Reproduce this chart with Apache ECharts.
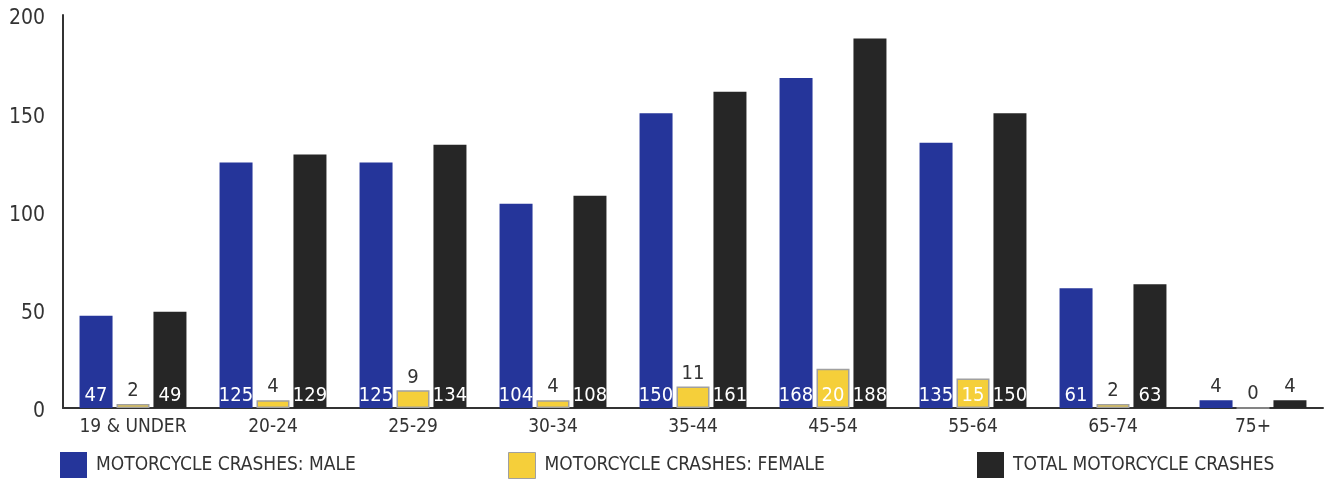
<!DOCTYPE html>
<html><head><meta charset="utf-8">
<script src="https://cdn.jsdelivr.net/npm/echarts@6/dist/echarts.min.js"></script>
<style>html,body{margin:0;padding:0;background:#fff}#c{width:1327px;height:482px}</style>
</head><body><div id="c"></div>
<script>
const categories = ['19 & UNDER','20-24','25-29','30-34','35-44','45-54','55-64','65-74','75+'];
const male = [47,125,125,104,150,168,135,61,4];
const female = [2,4,9,4,11,20,15,2,0];
const total = [49,129,134,108,161,188,150,63,4];
const seriesNames = ['MOTORCYCLE CRASHES: MALE','MOTORCYCLE CRASHES: FEMALE','TOTAL MOTORCYCLE CRASHES'];
const yTicks = [0,50,100,150,200];

const FONT = "'DejaVu Sans Condensed','Liberation Sans Narrow',sans-serif";
const colors = ['#25359a','#f5cf3a','#262626'];

function mkData(vals){
  return vals.map(v => {
    if (v < 12) return {value:v, label:{position:'top', color:'#333', distance:3}};
    return {value:v};
  });
}
function mkSeries(i, vals){
  return {
    name: seriesNames[i], type:'bar', data: mkData(vals),
    barWidth: 33, barGap: '12%',
    itemStyle: i===1 ? {color:colors[i], borderColor:'#a0a0a0', borderWidth:1.5} : {color:colors[i]},
    label: {show:true, position:'insideBottom', distance:2, color:'#fff', fontFamily:FONT, fontSize:20},
    emphasis:{disabled:true}
  };
}
const chart = echarts.init(document.getElementById('c'));
chart.setOption({
  animation:false,
  grid:{left:63, right:4, top:15, bottom:74, containLabel:false},
  legend:[0,1,2].map((i) => ({
    data:[{name:seriesNames[i], itemStyle: i===1?{color:colors[1], borderColor:'#a0a0a0', borderWidth:1}:{color:colors[i]}}],
    left:[60,508,977][i], top:452, padding:0, icon:'rect', itemWidth:27, itemHeight:26, itemGap:10,
    textStyle:{fontFamily:FONT, fontSize:19, color:'#333', padding:[0,0,0,4]}, selectedMode:false
  })),
  xAxis:{type:'category', data:categories,
    axisLine:{lineStyle:{color:'#333', width:2}}, axisTick:{show:false},
    axisLabel:{interval:0, fontFamily:FONT, fontSize:19, color:'#333', margin:10}},
  yAxis:{type:'value', min:yTicks[0], max:yTicks[yTicks.length-1], interval:50,
    axisLine:{show:true, lineStyle:{color:'#333', width:2}}, axisTick:{show:false},
    splitLine:{show:false},
    axisLabel:{margin:18, formatter:'{a|{value}}',
      rich:{a:{fontFamily:FONT, fontSize:21, color:'#333', padding:[8,0,0,0]}}}},
  series:[mkSeries(0,male), mkSeries(1,female), mkSeries(2,total)]
});
</script></body></html>
